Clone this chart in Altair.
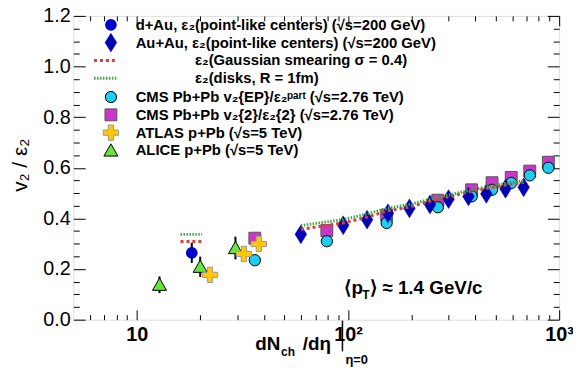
import altair as alt
import pandas as pd

# ---------------- data ----------------
dau_x = [18.2]
dau_y = [0.264]
dau_err = [0.04]

dau_gauss_x = [16.1, 20.4]
dau_gauss_y = [0.309, 0.309]
dau_disk_x = [16.1, 20.4]
dau_disk_y = [0.337, 0.337]

auau_x = [59.8, 94.9, 123.1, 154.6, 195.4, 244.5, 299.4, 371.9, 452, 557, 679]
auau_y = [0.337, 0.373, 0.395, 0.42, 0.44, 0.455, 0.476, 0.487, 0.497, 0.517, 0.523]
gauss_y = [0.357, 0.382, 0.405, 0.43, 0.445, 0.468, 0.485, 0.504, 0.518, 0.532, 0.542]
disk_y = [0.372, 0.395, 0.418, 0.44, 0.455, 0.475, 0.492, 0.51, 0.524, 0.538, 0.549]

cms_x = [36.2, 79.4, 152.4, 266.4, 385, 481, 593, 726, 889]
cms_ep_y = [0.235, 0.31, 0.382, 0.444, 0.487, 0.513, 0.54, 0.57, 0.6]
cms_2_y = [0.322, 0.352, 0.413, 0.472, 0.513, 0.541, 0.562, 0.587, 0.622]

atlas_x = [22.2, 32.1, 37.8]
atlas_y = [0.177, 0.26, 0.299]

alice_x = [12.8, 19.95, 29.3]
alice_y = [0.138, 0.209, 0.283]
alice_err = [0.033, 0.04, 0.045]

legend_labels = [
    "d+Au, ε₂(point-like centers) (√s=200 GeV)",
    "Au+Au, ε₂(point-like centers) (√s=200 GeV)",
    "ε₂(Gaussian smearing  σ = 0.4)",
    "ε₂(disks, R = 1fm)",
    "CMS Pb+Pb v₂{EP}/ε₂ᵖᵃʳᵗ (√s=2.76 TeV)",
    "CMS Pb+Pb v₂{2}/ε₂{2} (√s=2.76 TeV)",
    "ATLAS p+Pb (√s=5 TeV)",
    "ALICE p+Pb (√s=5 TeV)",
]

y_major = [0.0, 0.2, 0.4, 0.6, 0.8, 1.0, 1.2]
y_minor = [0.05, 0.1, 0.15, 0.25, 0.3, 0.35, 0.45, 0.5, 0.55, 0.65, 0.7, 0.75,
           0.85, 0.9, 0.95, 1.05, 1.1, 1.15]
x_major = [10, 100, 1000]
x_minor = [6, 7, 8, 9, 20, 30, 40, 50, 60, 70, 80, 90,
           200, 300, 400, 500, 600, 700, 800, 900]

# ---------------- styling ----------------
FONT = "Liberation Sans"
OX, OY = 74, 14  # plot origin in page pixels
W, H = 491, 307
xscale = alt.Scale(type="log", domain=[5, 1000], nice=False)
yscale = alt.Scale(domain=[0, 1.2], nice=False, zero=False)

DIAMOND = "M0,-1L0.62,0L0,1L-0.62,0Z"
CROSS = "M-1,-0.34H-0.34V-1H0.34V-0.34H1V0.34H0.34V1H-0.34V0.34H-1Z"
TRI = "M0,-0.95L1,0.8L-1,0.8Z"

C_DAU = "#0000cc"
C_AUAU = "#0000b4"
C_RED = "#e03a3a"
C_GREEN = "#3aa83a"
C_CYAN = "#1ecdf2"
C_MAG = "#c936c9"
C_GOLD = "#ffc800"
C_LIME = "#66e63c"


def df(xs, ys):
    return pd.DataFrame({"x": xs, "y": ys})


def enc(chart):
    return chart.encode(
        x=alt.X("x:Q", scale=xscale, axis=None),
        y=alt.Y("y:Q", scale=yscale, axis=None),
    )


axis_df = df(auau_x, auau_y)


def axis_layer(xaxis=None, yaxis=None):
    return alt.Chart(axis_df).mark_point(opacity=0).encode(
        x=alt.X("x:Q", scale=xscale, axis=xaxis),
        y=alt.Y("y:Q", scale=yscale, axis=yaxis),
    )


common = dict(domain=False, grid=False, title=None, tickColor="black", tickWidth=1)

layers = [
    axis_layer(yaxis=alt.Axis(orient="left", values=y_major, tickSize=12, offset=-12,
                              format=".1f", labelFont=FONT, labelFontSize=20,
                              labelColor="black", labelPadding=3, labelOverlap=False,
                              labelFlush=False, **common)),
    axis_layer(yaxis=alt.Axis(orient="left", values=y_minor, tickSize=6, offset=-6,
                              labels=False, **common)),
    axis_layer(yaxis=alt.Axis(orient="right", values=y_major, tickSize=12, offset=-12,
                              labels=False, **common)),
    axis_layer(yaxis=alt.Axis(orient="right", values=y_minor, tickSize=6, offset=-6,
                              labels=False, **common)),
    axis_layer(xaxis=alt.Axis(orient="bottom", values=x_major, tickSize=10, offset=-10,
                              labelExpr="datum.value == 10 ? '10' : datum.value == 100 ? '10²' : '10³'",
                              labelFont=FONT, labelFontWeight="bold", labelFontSize=20,
                              labelColor="black", labelPadding=5, labelOverlap=False,
                              labelFlush=False, **common)),
    axis_layer(xaxis=alt.Axis(orient="bottom", values=x_minor, tickSize=5, offset=-5,
                              labels=False, **common)),
    axis_layer(xaxis=alt.Axis(orient="top", values=x_major, tickSize=10, offset=-10,
                              labels=False, **common)),
    axis_layer(xaxis=alt.Axis(orient="top", values=x_minor, tickSize=5, offset=-5,
                              labels=False, **common)),
]

# ---------------- data layers ----------------
layers.append(enc(alt.Chart(df(cms_x, cms_2_y)).mark_point(
    shape="square", filled=True, size=144, fill=C_MAG, stroke="#555555",
    strokeWidth=1, opacity=1)))
layers.append(enc(alt.Chart(df(cms_x, cms_ep_y)).mark_point(
    shape="circle", filled=True, size=130, fill=C_CYAN, stroke="black",
    strokeWidth=1, opacity=1)))
layers.append(enc(alt.Chart(df(auau_x, auau_y)).mark_point(
    shape=DIAMOND, filled=True, size=360, fill=C_AUAU, stroke=C_AUAU,
    strokeWidth=0.5, opacity=1)))
layers.append(enc(alt.Chart(df(auau_x, gauss_y)).mark_line(
    color=C_RED, strokeWidth=3, strokeDash=[3, 3])))
layers.append(enc(alt.Chart(df(dau_gauss_x, dau_gauss_y)).mark_line(
    color=C_RED, strokeWidth=3, strokeDash=[3, 3])))
layers.append(enc(alt.Chart(df(auau_x, disk_y)).mark_line(
    color=C_GREEN, strokeWidth=3, strokeDash=[1.5, 1.5])))
layers.append(enc(alt.Chart(df(dau_disk_x, dau_disk_y)).mark_line(
    color=C_GREEN, strokeWidth=3, strokeDash=[1.5, 1.5])))

alice_df = pd.DataFrame({"x": alice_x, "y": alice_y, "err": alice_err})
alice_df["lo"] = alice_df["y"] - alice_df["err"]
alice_df["hi"] = alice_df["y"] + alice_df["err"]
layers.append(alt.Chart(alice_df).mark_rule(color="black", strokeWidth=2).encode(
    x=alt.X("x:Q", scale=xscale, axis=None),
    y=alt.Y("lo:Q", scale=yscale, axis=None), y2="hi:Q"))
layers.append(enc(alt.Chart(alice_df).mark_point(
    shape=TRI, filled=True, size=200, fill=C_LIME, stroke="black",
    strokeWidth=1, opacity=1)))
layers.append(enc(alt.Chart(df(atlas_x, atlas_y)).mark_point(
    shape=CROSS, filled=True, size=240, fill=C_GOLD, stroke="#999999",
    strokeWidth=1, opacity=1)))
dau_df = pd.DataFrame({"x": dau_x, "y": dau_y, "err": dau_err})
dau_df["lo"] = dau_df["y"] - dau_df["err"]
dau_df["hi"] = dau_df["y"] + dau_df["err"]
layers.append(alt.Chart(dau_df).mark_rule(color="black", strokeWidth=2).encode(
    x=alt.X("x:Q", scale=xscale, axis=None),
    y=alt.Y("lo:Q", scale=yscale, axis=None), y2="hi:Q"))
layers.append(enc(alt.Chart(dau_df).mark_point(
    shape="circle", filled=True, size=140, fill=C_DAU, opacity=1)))

# ---------------- legend (manual, ROOT style) ----------------
rows = [23, 41, 59, 77, 96, 114, 132, 150]
sym_x = 112
txt_x = 137
ind_x = 197

sym_specs = {
    0: dict(shape="circle", size=140, fill=C_DAU, strokeWidth=0),
    1: dict(shape=DIAMOND, size=360, fill=C_AUAU, stroke=C_AUAU, strokeWidth=0.5),
    4: dict(shape="circle", size=130, fill=C_CYAN, stroke="black", strokeWidth=1),
    5: dict(shape="square", size=144, fill=C_MAG, stroke="#555555", strokeWidth=1),
    6: dict(shape=CROSS, size=240, fill=C_GOLD, stroke="#999999", strokeWidth=1),
    7: dict(shape=TRI, size=200, fill=C_LIME, stroke="black", strokeWidth=1),
}

for i, lab in enumerate(legend_labels):
    one = pd.DataFrame({"label": [lab]})
    ry = rows[i] - OY
    if i in sym_specs:
        layers.append(alt.Chart(one).mark_point(filled=True, opacity=1, **sym_specs[i]).encode(
            x=alt.value(sym_x - OX), y=alt.value(ry)))
    else:
        col = C_RED if i == 2 else C_GREEN
        dash = [3, 3] if i == 2 else [1.5, 1.5]
        layers.append(alt.Chart(one).mark_rule(color=col, strokeWidth=3, strokeDash=dash).encode(
            x=alt.value(95 - OX), x2=alt.value(118 - OX), y=alt.value(ry)))
    tx = txt_x if i in sym_specs else ind_x
    layers.append(alt.Chart(one).mark_text(
        align="left", baseline="middle", font=FONT, fontWeight="bold", fontSize=15,
        color="black").encode(text="label:N", x=alt.value(tx - OX), y=alt.value(ry)))


# ---------------- free texts ----------------
def txt(s, x, y, size, weight="bold", baseline="alphabetic", align="left", angle=0):
    one = pd.DataFrame({"t": [s]})
    kw = dict(align=align, baseline=baseline, font=FONT, fontWeight=weight,
              fontSize=size, color="black")
    if angle:
        kw["angle"] = angle
    return alt.Chart(one).mark_text(**kw).encode(
        text="t:N", x=alt.value(x - OX), y=alt.value(y - OY))


# <pT> ~ 1.4 GeV/c
layers.append(txt("⟨p", 348, 295, 19))
layers.append(txt("T", 366, 300, 12))
layers.append(txt("⟩ ≈ 1.4 GeV/c", 374, 295, 19))

# x title
layers.append(txt("dN", 258, 352, 19))
layers.append(txt("ch", 284, 358, 12))
layers.append(txt("/dη", 306, 352, 19))
bar = pd.DataFrame({"t": ["|"]})
layers.append(alt.Chart(bar).mark_rule(color="black", strokeWidth=1.5).encode(
    x=alt.value(346 - OX), y=alt.value(322 - OY), y2=alt.value(353 - OY)))
layers.append(txt("η=0", 349, 366, 13))

# y title
layers.append(txt("v₂ / ε₂", 21, 165, 21, weight="normal", baseline="middle",
                  align="center", angle=270))

chart = alt.layer(*layers).resolve_axis(x="independent", y="independent").properties(
    width=W, height=H,
    autosize=alt.AutoSizeParams(type="none"),
    padding={"left": OX - 8, "top": OY - 8, "right": 14, "bottom": 60},
).configure_view(stroke="black", strokeWidth=1.5).configure(background="white")

chart.save("out.html", embed_options={"renderer": "svg", "actions": False})
